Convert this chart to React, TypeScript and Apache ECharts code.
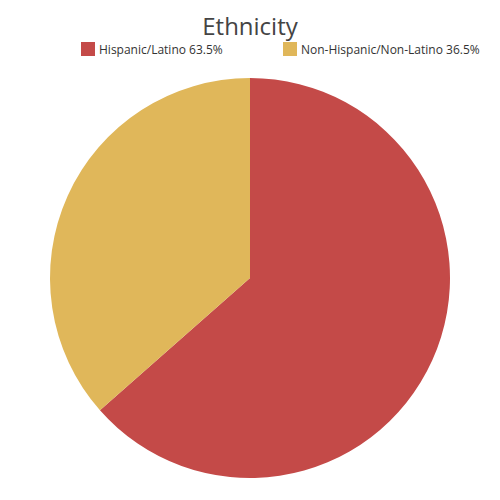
import React, { useEffect, useRef } from 'react';
import * as echarts from 'echarts';

const categories = ['Hispanic/Latino', 'Non-Hispanic/Non-Latino'];
const shares = [63.5, 36.5];
const colors = ['#C44A48', '#E0B75A'];

const App: React.FC = () => {
  const chartRef = useRef<HTMLDivElement | null>(null);

  useEffect(() => {
    if (!chartRef.current) return;
    const chart = echarts.init(chartRef.current, undefined, { renderer: 'svg' });

    const data = categories.map((name, i) => ({
      name,
      value: shares[i],
      itemStyle: { color: colors[i] },
    }));

    const legendText = (name: string) => {
      const idx = categories.indexOf(name);
      return `${name} ${shares[idx]}%`;
    };

    const legendBase = {
      top: 42,
      itemWidth: 14,
      itemHeight: 14,
      itemGap: 5,
      icon: 'rect',
      formatter: legendText,
      textStyle: { fontFamily: 'Open Sans', fontSize: 12, color: '#333', padding: [0, 0, 0, -1] },
      padding: 0,
    };

    chart.setOption({
      animation: false,
      title: {
        text: 'Ethnicity',
        left: 'center',
        top: 8,
        textStyle: { fontFamily: 'Open Sans', fontSize: 24, fontWeight: 'normal', color: '#444' },
      },
      legend: [
        { ...legendBase, left: 81, data: [categories[0]] },
        { ...legendBase, left: 283, data: [categories[1]] },
      ],
      series: [
        {
          type: 'pie',
          center: [250, 278],
          radius: 200,
          startAngle: 90,
          clockwise: true,
          label: { show: false },
          labelLine: { show: false },
          emphasis: { disabled: true },
          data,
        },
      ],
    });

    return () => {
      chart.dispose();
    };
  }, []);

  return (
    <div
      ref={chartRef}
      style={{ position: 'fixed', left: 0, top: 0, width: '500px', height: '500px', background: '#fff' }}
    />
  );
};

export default App;
